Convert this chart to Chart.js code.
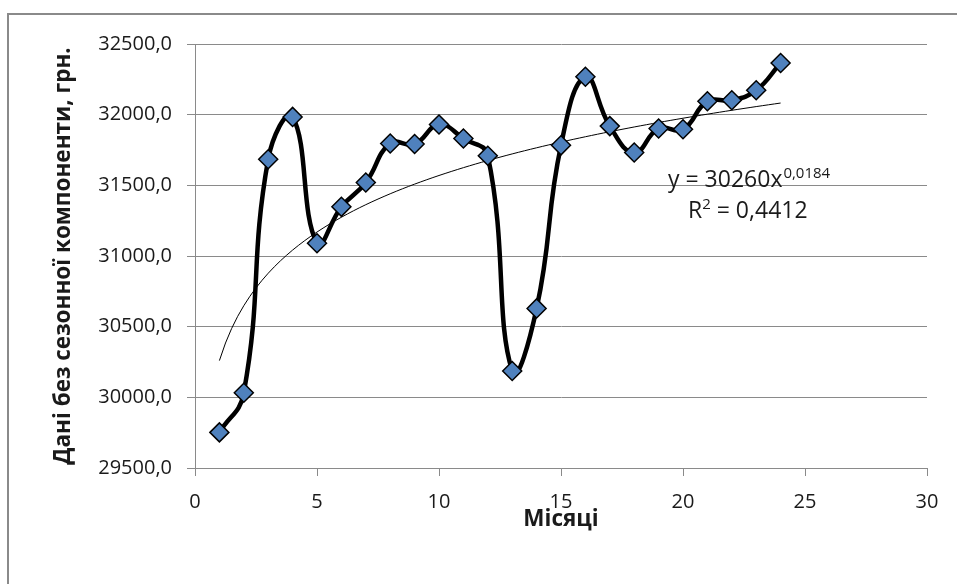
<!DOCTYPE html>
<html>
<head>
<meta charset="utf-8">
<style>
  html, body { margin: 0; padding: 0; background: #fff; }
  #wrap { width: 957px; height: 584px; position: relative; }
</style>
<script src="https://cdn.jsdelivr.net/npm/chart.js@4/dist/chart.umd.min.js"></script>
</head>
<body>
<div id="wrap"><canvas id="c" width="957" height="584"></canvas></div>
<script>
// Months 1..24 and deseasonalised values (UAH)
const months = [1, 2, 3, 4, 5, 6, 7, 8, 9, 10, 11, 12,
                13, 14, 15, 16, 17, 18, 19, 20, 21, 22, 23, 24];
const values = [29752, 30032, 31685, 31984, 31090, 31348, 31520, 31796, 31792, 31930, 31831, 31709,
                30186, 30629, 31783, 32268, 31919, 31732, 31902, 31897, 32095, 32102, 32173, 32366];

// Power trend y = a * x^b with the coefficients shown on the chart
const trendA = 30260;
const trendB = 0.0184;
const trendLabel = ['y = 30260x', '0,0184'];
const r2Label = ['R', '2', ' = 0,4412'];

const yTicks = [29500, 30000, 30500, 31000, 31500, 32000, 32500];
const xTicks = [0, 5, 10, 15, 20, 25, 30];

const FONT = '"Open Sans", "Noto Sans", sans-serif';

const mainPoints = months.map((m, i) => ({ x: m, y: values[i] }));
const trendPoints = [];
for (let x = months[0]; x <= months[months.length - 1] + 1e-9; x += 0.25) {
  trendPoints.push({ x: x, y: trendA * Math.pow(x, trendB) });
}

// Outer frame and the trend equation text
const decor = {
  id: 'decor',
  beforeDraw(chart) {
    const ctx = chart.ctx;
    ctx.save();
    ctx.fillStyle = '#fff';
    ctx.fillRect(0, 0, chart.width, chart.height);
    ctx.strokeStyle = '#8a8a8a';
    ctx.lineWidth = 2;
    ctx.strokeRect(8, 14, chart.width + 20, chart.height + 20);
    ctx.restore();
  },
  afterDatasetsDraw(chart) {
    const ctx = chart.ctx;
    ctx.save();
    ctx.fillStyle = '#1a1a1a';
    ctx.textBaseline = 'alphabetic';
    // equation line
    let x = 668, y = 187;
    ctx.font = '23px ' + FONT;
    ctx.fillText(trendLabel[0], x, y);
    x += ctx.measureText(trendLabel[0]).width;
    ctx.font = '15px ' + FONT;
    ctx.fillText(trendLabel[1], x + 1, y - 9);
    // R² line
    x = 688; y = 218;
    ctx.font = '23px ' + FONT;
    ctx.fillText(r2Label[0], x, y);
    x += ctx.measureText(r2Label[0]).width;
    ctx.font = '15px ' + FONT;
    ctx.fillText(r2Label[1], x, y - 9);
    x += ctx.measureText(r2Label[1]).width;
    ctx.font = '23px ' + FONT;
    ctx.fillText(r2Label[2], x, y);
    ctx.restore();
  }
};

new Chart(document.getElementById('c'), {
  type: 'scatter',
  data: {
    datasets: [
      {
        data: mainPoints,
        showLine: true,
        borderColor: '#000',
        borderWidth: 4.5,
        tension: 0.45,
        pointStyle: 'rectRot',
        pointRadius: 9.5,
        pointHoverRadius: 9.5,
        pointBackgroundColor: '#4F81BD',
        pointBorderColor: '#000',
        pointBorderWidth: 1.5
      },
      {
        data: trendPoints,
        showLine: true,
        borderColor: '#000',
        borderWidth: 1,
        tension: 0,
        pointRadius: 0,
        pointHoverRadius: 0
      }
    ]
  },
  options: {
    responsive: false,
    animation: false,
    events: [],
    layout: { padding: { left: 0, top: 44, right: 30, bottom: 0 } },
    plugins: { legend: { display: false }, tooltip: { enabled: false } },
    scales: {
      x: {
        type: 'linear',
        min: 0, max: 30,
        afterBuildTicks(s) { s.ticks = xTicks.map(v => ({ value: v })); },
        afterFit(s) { s.height = 116; },
        grid: { drawOnChartArea: false, drawTicks: true, tickLength: 8, tickColor: '#8a8a8a' },
        border: { color: '#8a8a8a', width: 1 },
        ticks: {
          padding: 14,
          color: '#1a1a1a',
          font: { family: FONT, size: 20 },
          maxRotation: 0
        },
        title: {
          display: true,
          text: 'Місяці',
          color: '#1a1a1a',
          font: { family: FONT, size: 22.5, weight: 'bold' },
          padding: { top: 0, bottom: 51 }
        }
      },
      y: {
        type: 'linear',
        min: 29500, max: 32500,
        afterBuildTicks(s) { s.ticks = yTicks.map(v => ({ value: v })); },
        afterFit(s) { s.width = 195; },
        grid: { color: '#8a8a8a', lineWidth: 1, drawTicks: true, tickLength: 8, tickColor: '#8a8a8a' },
        border: { color: '#8a8a8a', width: 1 },
        ticks: {
          padding: 15,
          color: '#1a1a1a',
          font: { family: FONT, size: 20 },
          callback: v => v.toFixed(1).replace('.', ',')
        },
        title: {
          display: true,
          text: 'Дані без сезонної компоненти, грн.',
          color: '#1a1a1a',
          font: { family: FONT, size: 22.5, weight: 'bold' },
          padding: { top: 50, bottom: 0 }
        }
      }
    }
  },
  plugins: [decor]
});
</script>
</body>
</html>
